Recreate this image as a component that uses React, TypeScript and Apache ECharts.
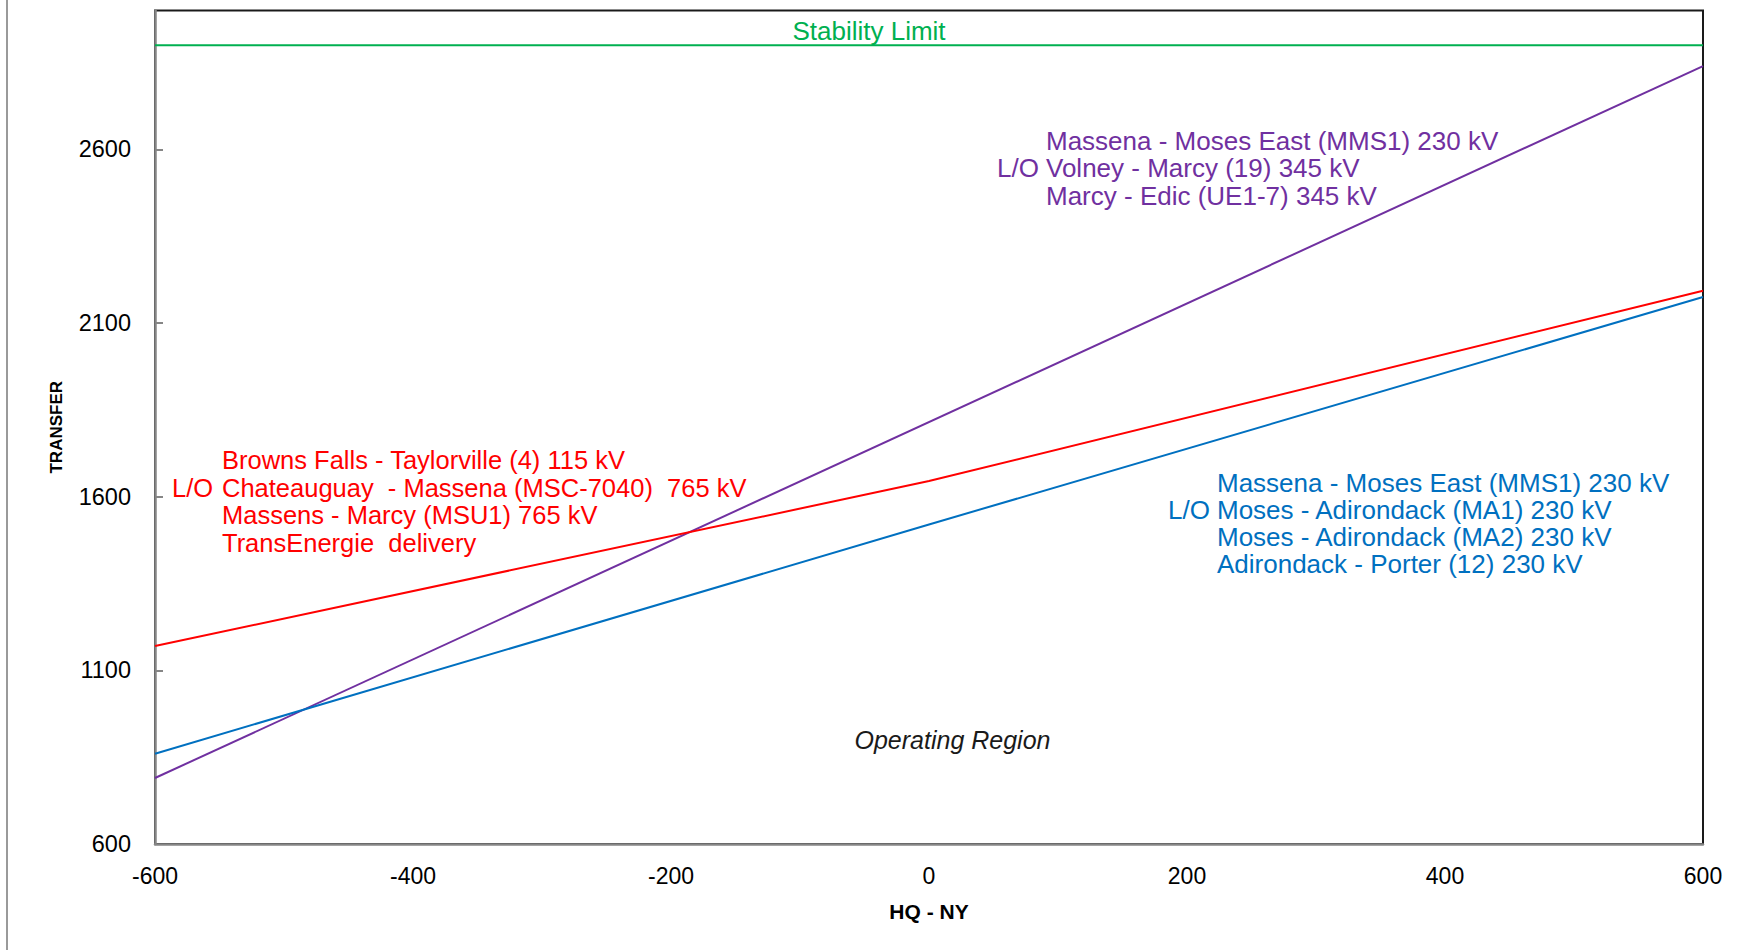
import React, { useEffect, useRef } from "react";
import * as echarts from "echarts";

// ---- data ----
const xTicks = [-600, -400, -200, 0, 200, 400, 600];
const yTicks = [600, 1100, 1600, 2100, 2600];

const stabilityX = [-600, 600];
const stabilityY = [2900, 2900];

const purpleX = [-600, 600];
const purpleY = [790, 2840];

const redX = [-600, 0, 600];
const redY = [1170, 1645, 2193];

const blueX = [-600, 0, 600];
const blueY = [860, 1520, 2175];

const redLabels = [
  "Browns Falls - Taylorville (4) 115 kV",
  "Chateauguay  - Massena (MSC-7040)  765 kV",
  "Massens - Marcy (MSU1) 765 kV",
  "TransEnergie  delivery",
];
const purpleLabels = [
  "Massena - Moses East (MMS1) 230 kV",
  "Volney - Marcy (19) 345 kV",
  "Marcy - Edic (UE1-7) 345 kV",
];
const blueLabels = [
  "Massena - Moses East (MMS1) 230 kV",
  "Moses - Adirondack (MA1) 230 kV",
  "Moses - Adirondack (MA2) 230 kV",
  "Adirondack - Porter (12) 230 kV",
];

const RED = "#FF0000";
const PURPLE = "#7030A0";
const BLUE = "#0070C0";
const GREEN = "#00B050";
const FONT = "'Liberation Sans', Arial, sans-serif";

const zip = (xs: number[], ys: number[]) => xs.map((x, i) => [x, ys[i]]);

function textBlock(
  lines: string[],
  x: number,
  y0: number,
  step: number,
  color: string,
  size: number,
  loIndex: number,
  loX: number
) {
  const els: any[] = [];
  lines.forEach((t, i) => {
    els.push({
      type: "text",
      x,
      y: y0 + i * step,
      silent: true,
      style: {
        text: t,
        fill: color,
        fontSize: size,
        fontFamily: FONT,
        align: "left",
        verticalAlign: "middle",
      },
    });
  });
  els.push({
    type: "text",
    x: loX,
    y: y0 + loIndex * step,
    silent: true,
    style: {
      text: "L/O",
      fill: color,
      fontSize: size,
      fontFamily: FONT,
      align: "left",
      verticalAlign: "middle",
    },
  });
  return els;
}

export default function App() {
  const ref = useRef<HTMLDivElement>(null);
  useEffect(() => {
    if (!ref.current) return;
    const chart = echarts.init(ref.current, undefined, { renderer: "svg" });
    const lineSeries = (name: string, data: number[][], color: string) => ({
      name,
      type: "line",
      data,
      showSymbol: false,
      symbol: "none",
      lineStyle: { color, width: 2 },
      itemStyle: { color },
      z: 3,
    });
    chart.setOption({
      animation: false,
      backgroundColor: "#ffffff",
      grid: {
        left: 155,
        right: 41,
        top: 10.5,
        bottom: 106,
        show: true,
        borderColor: "#1a1a1a",
        borderWidth: 2,
        backgroundColor: "transparent",
      },
      xAxis: {
        type: "value",
        min: -600,
        max: 600,
        interval: 200,
        name: "HQ - NY",
        nameLocation: "middle",
        nameGap: 57,
        nameTextStyle: {
          fontFamily: FONT,
          fontWeight: "bold",
          fontSize: 21,
          color: "#000",
        },
        axisLine: { show: true, onZero: false, lineStyle: { color: "#868686", width: 2.5 } },
        axisTick: { show: false },
        splitLine: { show: false },
        axisLabel: {
          fontFamily: FONT,
          fontSize: 23,
          color: "#000",
          margin: 20,
          customValues: xTicks,
          formatter: (v: number) => String(v),
        },
      },
      yAxis: {
        type: "value",
        min: 600,
        max: 3000,
        interval: 500,
        name: "TRANSFER",
        nameLocation: "middle",
        nameGap: 90,
        nameRotate: 90,
        nameTextStyle: {
          fontFamily: FONT,
          fontWeight: "bold",
          fontSize: 17,
          color: "#000",
        },
        axisLine: { show: true, onZero: false, lineStyle: { color: "#868686", width: 2.5 } },
        axisTick: {
          show: true,
          inside: true,
          length: 8,
          lineStyle: { color: "#868686", width: 2 },
          customValues: yTicks.filter((v) => v !== 600),
        },
        splitLine: { show: false },
        axisLabel: {
          fontFamily: FONT,
          fontSize: 23.5,
          color: "#000",
          margin: 24,
          customValues: yTicks,
          formatter: (v: number) => String(v),
        },
      },
      series: [
        lineSeries("Stability Limit", zip(stabilityX, stabilityY), GREEN),
        lineSeries("Purple", zip(purpleX, purpleY), PURPLE),
        lineSeries("Red", zip(redX, redY), RED),
        lineSeries("Blue", zip(blueX, blueY), BLUE),
      ],
      graphic: [
        {
          type: "line",
          silent: true,
          shape: { x1: 7, y1: 0, x2: 7, y2: 950 },
          style: { stroke: "#9a9a9a", lineWidth: 2 },
        },
        {
          type: "text",
          x: 869,
          y: 30.5,
          silent: true,
          style: {
            text: "Stability Limit",
            fill: GREEN,
            fontSize: 26,
            fontFamily: FONT,
            align: "center",
            verticalAlign: "middle",
          },
        },
        {
          type: "text",
          x: 952.5,
          y: 740,
          silent: true,
          style: {
            text: "Operating Region",
            fill: "#1a1a1a",
            fontSize: 25,
            fontStyle: "italic",
            fontFamily: FONT,
            align: "center",
            verticalAlign: "middle",
          },
        },
        ...textBlock(redLabels, 222, 460, 27.5, RED, 25.5, 1, 172),
        ...textBlock(purpleLabels, 1046, 140.5, 27.5, PURPLE, 26, 1, 997),
        ...textBlock(blueLabels, 1217, 483, 27, BLUE, 26, 1, 1168),
      ],
    });
    return () => chart.dispose();
  }, []);
  return (
    <div
      ref={ref}
      style={{ position: "fixed", left: 0, top: 0, width: 1744, height: 950, background: "#fff" }}
    />
  );
}
